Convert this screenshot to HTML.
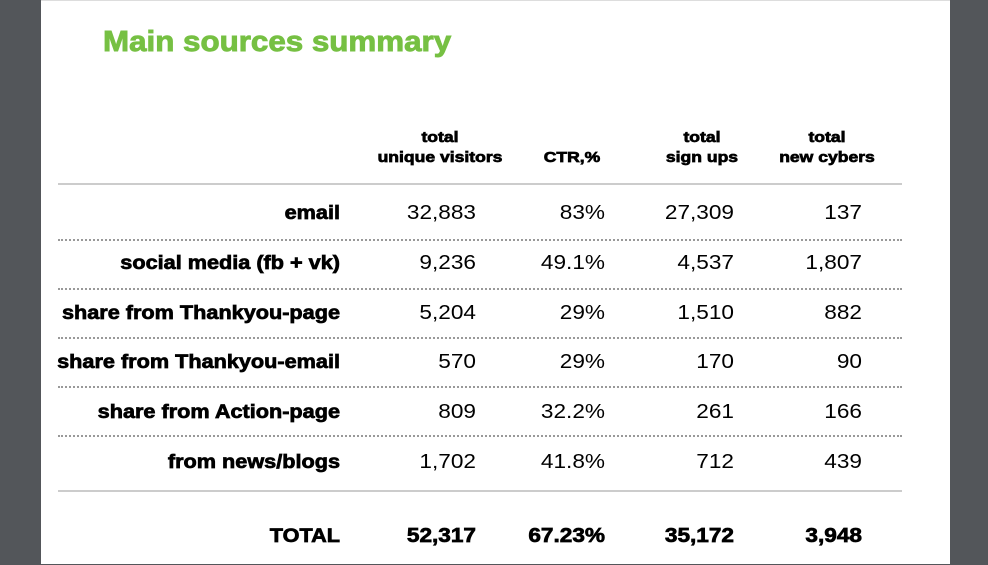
<!DOCTYPE html>
<html><head><meta charset="utf-8"><style>
body{margin:0;width:988px;height:565px;background:#53565a;position:relative;overflow:hidden;font-family:"Liberation Sans",sans-serif}
#page{position:absolute;left:41px;top:0;width:909px;height:563px;background:#fff;border-top:1px solid #ddd}
.t{position:absolute;white-space:nowrap;color:#000}
.b{font-weight:bold;-webkit-text-stroke:0.7px #000}
.lab{font-size:19px;text-align:right;width:320px;transform:scaleX(1.14);transform-origin:right center}
.v{font-size:20px;text-align:right;width:120px;transform:scaleX(1.13);transform-origin:right center}
.h{font-size:15px;text-align:center;width:160px;line-height:20px;transform:scaleX(1.17);transform-origin:center center}
.dot{position:absolute;left:17px;width:844px;border-top:2px dotted #999}
.rule{position:absolute;left:17px;width:844px;border-top:2px solid #ccc}
</style></head><body>
<div id="page">
<div class="t" style="left:62px;top:25px;font-size:29px;font-weight:bold;color:#76c043;-webkit-text-stroke:0.9px #76c043;transform:scaleX(1.08);transform-origin:left center">Main sources summary</div>
<div id="tbl"></div>
</div>
<script>
const headers=[["total","unique visitors"],["CTR,%",""],["total","sign ups"],["total","new cybers"]];
const labels=["email","social media (fb + vk)","share from Thankyou-page","share from Thankyou-email","share from Action-page","from news/blogs"];
const visitors=["32,883","9,236","5,204","570","809","1,702"];
const ctr=["83%","49.1%","29%","29%","32.2%","41.8%"];
const signups=["27,309","4,537","1,510","170","261","712"];
const cybers=["137","1,807","882","90","166","439"];
const totals=["52,317","67.23%","35,172","3,948"];
const p=document.getElementById('page');
const colR=[435,564,693,821], hdrC=[399,531,661,786];
function add(cls,txt,css){const d=document.createElement('div');d.className=cls;d.textContent=txt;d.style.cssText=css;p.appendChild(d);return d;}
headers.forEach((h,i)=>{const d=add('t h b',h[1]?h[0]+"\n"+h[1]:"\n"+h[0],'left:'+(hdrC[i]-80)+'px;top:127px;white-space:pre');

});
const r=document.createElement('div');r.className='rule';r.style.top='182px';p.appendChild(r);


const cols=[visitors,ctr,signups,cybers];
labels.forEach((l,i)=>{const y=201+i*49.8;
const d=add('t lab b',l,'left:-21px;top:'+(y+1)+'px');


cols.forEach((c,j)=>{const v=add('t v',c[i],'left:'+(colR[j]-120)+'px;top:'+y+'px');

});
if(i<labels.length-1){const s=document.createElement('div');s.className='dot';s.style.top=(237.5+i*49.2)+'px';p.appendChild(s);

}
});
const r2=document.createElement('div');r2.className='rule';r2.style.top='489px';p.appendChild(r2);


const tl=add('t lab b','TOTAL','left:-21px;top:525px');


totals.forEach((t,j)=>{const v=add('t v b',t,'left:'+(colR[j]-120)+'px;top:524px');

});
</script>
</body></html>
